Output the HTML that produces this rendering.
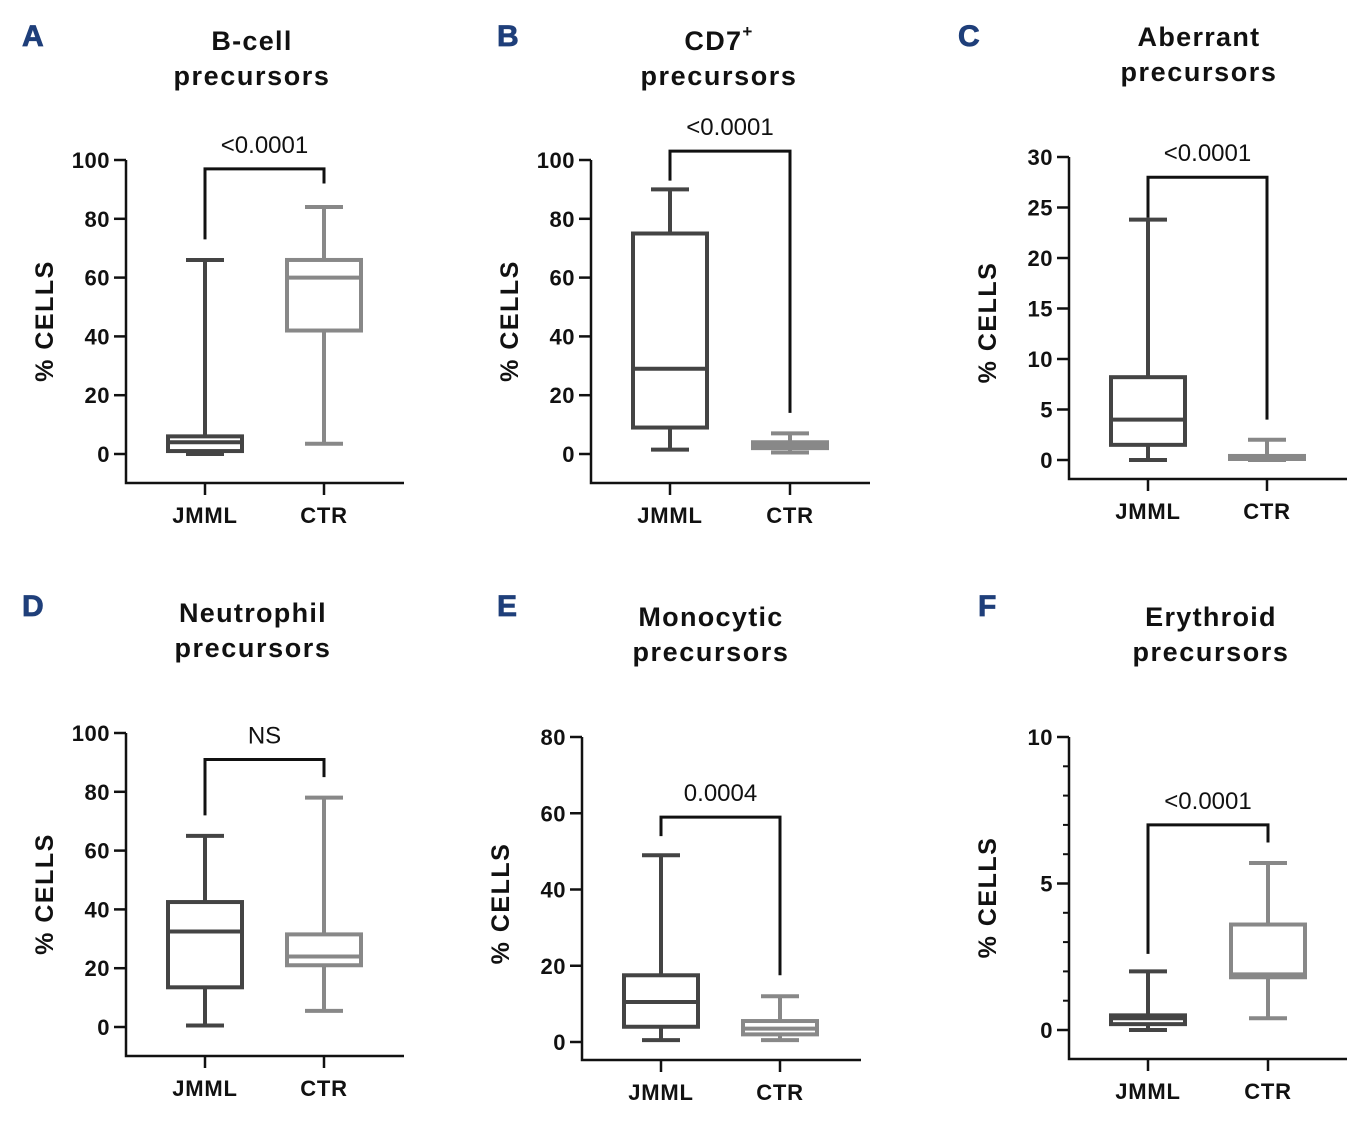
<!DOCTYPE html>
<html><head><meta charset="utf-8"><style>
html,body{margin:0;padding:0;background:#fff;}
svg{display:block;font-family:"Liberation Sans",Arial,sans-serif;}
</style></head><body>
<svg id="fig" width="1361" height="1124" viewBox="0 0 1361 1124"></svg>
<script>
const groups = ["JMML","CTR"];
const panelLetters = ["A","B","C","D","E","F"];
const titles1 = ["B-cell","CD7","Aberrant","Neutrophil","Monocytic","Erythroid"];
const yMaxs = [100,100,30,100,80,10];
const yTicks = [[0,20,40,60,80,100],[0,20,40,60,80,100],[0,5,10,15,20,25,30],[0,20,40,60,80,100],[0,20,40,60,80],[0,5,10]];
const pLabels = ["<0.0001","<0.0001","<0.0001","NS","0.0004","<0.0001"];
// [min,q1,median,q3,max]
const jmmlStats = [[0,1,4,6,66],[1.5,9,29,75,90],[0,1.5,4,8.2,23.8],[0.5,13.5,32.5,42.5,65],[0.5,4,10.5,17.5,49],[0,0.2,0.4,0.5,2]];
const ctrStats = [[3.5,42,60,66,84],[0.5,2,3,4,7],[0,0.1,0.3,0.4,2],[5.5,21,24,31.5,78],[0.5,2,3.5,5.5,12],[0.4,1.8,1.9,3.6,5.7]];
// bracket: [top value, left-leg end value, right-leg end value]
const brackets = [[97,73,92],[103,93,14],[28,24,4],[91,72,85],[59,54,17.5],[7,2.6,6.4]];

const L = [
 {ax:126,top:160,zero:454,bot:483,right:404,x1:205,x2:324,tx:252,ty:40,lx:22,ly:35},
 {ax:591,top:160,zero:454,bot:483,right:870,x1:670,x2:790,tx:719,ty:40,lx:497,ly:35},
 {ax:1069,top:157,zero:460,bot:479,right:1347,x1:1148,x2:1267,tx:1199,ty:36,lx:958,ly:35},
 {ax:126,top:733,zero:1027,bot:1056,right:404,x1:205,x2:324,tx:253,ty:612,lx:22,ly:605},
 {ax:582,top:737,zero:1042,bot:1060,right:861,x1:661,x2:780,tx:711,ty:616,lx:497,ly:605},
 {ax:1069,top:737,zero:1030,bot:1059,right:1347,x1:1148,x2:1268,tx:1211,ty:616,lx:978,ly:605}
];
const NS="http://www.w3.org/2000/svg";
const svg=document.getElementById('fig');
function mk(tag,attrs,parent,text){const e=document.createElementNS(NS,tag);for(const k in attrs)e.setAttribute(k,attrs[k]);if(text!==undefined)e.textContent=text;(parent||svg).appendChild(e);return e;}

for(let i=0;i<6;i++){
 const g=L[i];
 const y=v=>g.zero-(v/yMaxs[i])*(g.zero-g.top);
 const pg=mk('g',{});
 
 
 let t=mk('text',{x:g.lx,y:g.ly+11,'font-size':30,'font-weight':'bold',fill:'#1f3f7a',stroke:'#1f3f7a','stroke-width':0.8},pg,panelLetters[i]);
 
 t=mk('text',{x:g.tx,y:g.ty+10,'font-size':27,'font-weight':'bold','text-anchor':'middle',fill:'#111','letter-spacing':1.3},pg,titles1[i]);
 
 if(i===1){mk('tspan',{'font-size':17,dy:-13},t,'+');}
 t=mk('text',{x:g.tx,y:g.ty+45,'font-size':27,'font-weight':'bold','text-anchor':'middle',fill:'#111','letter-spacing':1.6},pg,'precursors');
 
 let a=mk('path',{d:`M${g.ax},${g.top}V${g.bot}H${g.right}`,stroke:'#111','stroke-width':2.5,fill:'none'},pg);
 
 if(i===5){for(let v=1;v<10;v++){if(v%5)mk('line',{x1:g.ax-6,x2:g.ax,y1:y(v),y2:y(v),stroke:'#111','stroke-width':2},pg);}}
 yTicks[i].forEach(v=>{
  mk('line',{x1:g.ax-12,x2:g.ax,y1:y(v),y2:y(v),stroke:'#111','stroke-width':2.5},pg);
  const tl=mk('text',{x:g.ax-16,y:y(v)+8,'font-size':22,'font-weight':'bold','text-anchor':'end',fill:'#111','letter-spacing':0.5},pg,String(v));
  
 });
 const cy=(g.top+g.zero)/2+14;
 t=mk('text',{x:0,y:0,'font-size':25,'font-weight':'bold','text-anchor':'middle',fill:'#111','letter-spacing':1.5,transform:`translate(${g.ax-73},${cy}) rotate(-90)`},pg,'% CELLS');
 
 const xs=[g.x1,g.x2];
 [jmmlStats[i],ctrStats[i]].forEach((s,k)=>{
  const x=xs[k],col=k?'#888':'#444';
  mk('line',{x1:x,x2:x,y1:g.bot,y2:g.bot+12,stroke:'#111','stroke-width':2.5},pg);
  const xl=mk('text',{x:x,y:g.bot+40,'font-size':22,'font-weight':'bold','text-anchor':'middle',fill:'#111','letter-spacing':0.8},pg,groups[k]);
  
  const bg=mk('g',{stroke:col,'stroke-width':4,fill:'none'},pg);
  
  mk('line',{x1:x,x2:x,y1:y(s[4]),y2:y(s[3])},bg);
  mk('line',{x1:x,x2:x,y1:y(s[1]),y2:y(s[0])},bg);
  mk('line',{x1:x-19,x2:x+19,y1:y(s[4]),y2:y(s[4])},bg);
  mk('line',{x1:x-19,x2:x+19,y1:y(s[0]),y2:y(s[0])},bg);
  mk('rect',{x:x-37,y:y(s[3]),width:74,height:Math.max(0,y(s[1])-y(s[3]))},bg);
  mk('line',{x1:x-37,x2:x+37,y1:y(s[2]),y2:y(s[2])},bg);
 });
 const b=brackets[i];
 const br=mk('path',{d:`M${g.x1},${y(b[1])}V${y(b[0])}H${g.x2}V${y(b[2])}`,stroke:'#111','stroke-width':3,fill:'none'},pg);
 
 t=mk('text',{x:(g.x1+g.x2)/2,y:y(b[0])-16,'font-size':24,'text-anchor':'middle',fill:'#111'},pg,pLabels[i]);
 
}
</script>
</body></html>
